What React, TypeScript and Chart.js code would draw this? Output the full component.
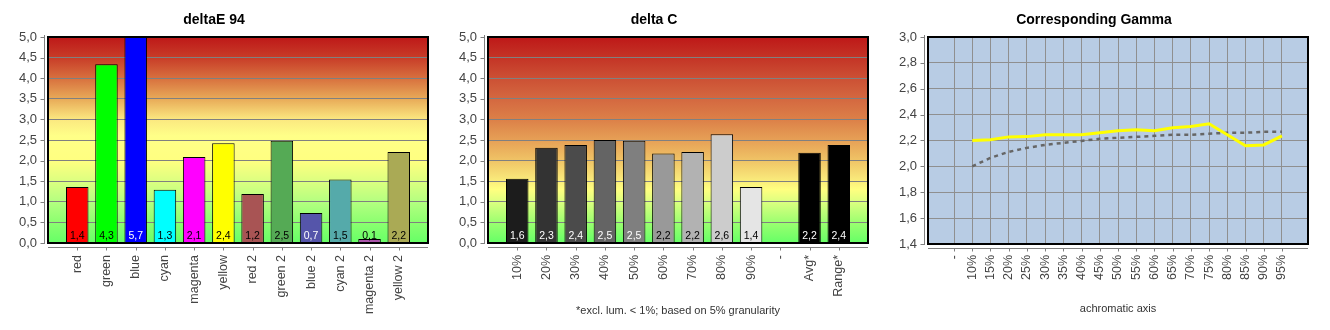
import React, { useEffect, useRef } from 'react';
import { Chart, registerables } from 'chart.js';

Chart.register(...registerables);

// ---------- data ----------
const deltaECategories = ['red', 'green', 'blue', 'cyan', 'magenta', 'yellow', 'red 2', 'green 2', 'blue 2', 'cyan 2', 'magenta 2', 'yellow 2'];
const deltaEValues = [1.36, 4.34, 5.7, 1.29, 2.09, 2.42, 1.19, 2.48, 0.73, 1.54, 0.1, 2.21];

const deltaCCategories = ['10%', '20%', '30%', '40%', '50%', '60%', '70%', '80%', '90%', '-', 'Avg*', 'Range*'];
const deltaCValues = [1.56, 2.31, 2.38, 2.5, 2.48, 2.17, 2.21, 2.64, 1.36, null, 2.19, 2.38];

const gammaLabels = ['-', '10%', '15%', '20%', '25%', '30%', '35%', '40%', '45%', '50%', '55%', '60%', '65%', '70%', '75%', '80%', '85%', '90%', '95%'];
const gammaMeasured = [2.2, 2.205, 2.228, 2.23, 2.244, 2.244, 2.244, 2.26, 2.275, 2.283, 2.275, 2.298, 2.308, 2.329, 2.244, 2.159, 2.166, 2.236];
const gammaTarget = [2.0, 2.066, 2.112, 2.143, 2.166, 2.182, 2.197, 2.213, 2.221, 2.228, 2.236, 2.244, 2.244, 2.252, 2.26, 2.26, 2.267, 2.267];

const barTickLabels = ['0,0', '0,5', '1,0', '1,5', '2,0', '2,5', '3,0', '3,5', '4,0', '4,5', '5,0'];

// ---------- styles ----------
const FONT = '"Liberation Sans", Arial, sans-serif';
const deltaEColors = ['#ff0000', '#00ff00', '#0000ff', '#00ffff', '#ff00ff', '#ffff00', '#a85454', '#55aa55', '#5555aa', '#55aaaa', '#aa55aa', '#aaaa55'];
const deltaELabelColors = ['#000', '#000', '#fff', '#000', '#000', '#000', '#000', '#000', '#fff', '#000', '#000', '#000'];
const deltaCColors = ['#1c1c1c', '#333333', '#4b4b4b', '#646464', '#7f7f7f', '#999999', '#b2b2b2', '#cccccc', '#e5e5e5', '#000000', '#000000', '#000000'];
const deltaCLabelColors = ['#fff', '#fff', '#fff', '#fff', '#fff', '#000', '#000', '#000', '#000', '#000', '#fff', '#fff'];

const stopsE: [number, string][] = [
  [0, '#66ff66'], [0.5, '#8cff70'], [1.0, '#b4ff80'], [1.5, '#dcff80'], [2.0, '#ffff80'], [2.6, '#ffff88'],
  [3.0, '#fbe880'], [3.5, '#e8aa58'], [4.0, '#d8703e'], [4.5, '#c83c28'], [5.0, '#be1818'],
];
const stopsC: [number, string][] = [
  [0, '#66ff66'], [0.5, '#9cff70'], [1.0, '#dcff80'], [1.3, '#ffff80'], [1.6, '#f8e478'], [2.0, '#f0c466'],
  [2.5, '#e6a056'], [3.0, '#dc8048'], [3.5, '#d46840'], [4.0, '#cc5034'], [4.5, '#c43426'], [5.0, '#be1818'],
];

const fmt = (v: number) => v.toFixed(1).replace('.', ',');
const pad = (arr: any[]) => [null, ...arr, null];

const panelPlugin = {
  id: 'panel',
  beforeDraw(chart: any, _args: any, opts: any) {
    const { ctx, chartArea: a } = chart;
    const ys = chart.scales.y;
    const xs = chart.scales.x;
    ctx.save();
    if (opts.stops) {
      const g = ctx.createLinearGradient(0, ys.getPixelForValue(ys.min), 0, ys.getPixelForValue(ys.max));
      opts.stops.forEach(([v, c]: [number, string]) => g.addColorStop((v - ys.min) / (ys.max - ys.min), c));
      ctx.fillStyle = g;
    } else {
      ctx.fillStyle = opts.background;
    }
    ctx.fillRect(a.left, a.top, a.right - a.left, a.bottom - a.top);

    ctx.strokeStyle = '#808080';
    ctx.lineWidth = 1;
    ctx.beginPath();
    const ax = Math.round(a.left) - 4 + 0.5;
    ctx.moveTo(ax, a.top - 2);
    ctx.lineTo(ax, a.bottom + 1);
    ys.ticks.forEach((t: any) => {
      const py = Math.round(ys.getPixelForValue(t.value)) + 0.5;
      ctx.moveTo(ax - 4, py);
      ctx.lineTo(ax, py);
    });
    const ay = Math.round(a.bottom) + 4 + 0.5;
    ctx.moveTo(a.left, ay);
    ctx.lineTo(a.right, ay);
    xs.ticks.forEach((t: any, i: number) => {
      if (!t.label) return;
      const px = Math.round(xs.getPixelForTick(i)) + 0.5;
      ctx.moveTo(px, ay);
      ctx.lineTo(px, ay + 3);
    });
    ctx.stroke();
    ctx.restore();
  },
  afterDatasetsDraw(chart: any, _args: any, opts: any) {
    const { ctx, chartArea: a } = chart;
    ctx.save();
    if (opts.valueLabels) {
      const meta = chart.getDatasetMeta(0);
      const data = chart.data.datasets[0].data;
      ctx.font = '10.5px ' + FONT;
      ctx.textAlign = 'center';
      ctx.textBaseline = 'alphabetic';
      meta.data.forEach((el: any, i: number) => {
        const v = data[i];
        if (v === null || v === undefined) return;
        ctx.fillStyle = opts.valueLabels[i] || '#000';
        ctx.fillText(fmt(v), el.x, a.bottom - 4);
      });
    }
    ctx.strokeStyle = '#000';
    ctx.lineWidth = 2;
    ctx.strokeRect(Math.round(a.left), Math.round(a.top), Math.round(a.right) - Math.round(a.left), Math.round(a.bottom) - Math.round(a.top));
    ctx.restore();
  },
};

const titleOpts = (text: string) => ({
  display: true,
  text,
  color: '#000',
  font: { family: FONT, size: 14, weight: 'bold' as const, lineHeight: 1.2 },
  padding: { top: 12.2, bottom: 8 },
});

const fixX = (h: number) => (s: any) => {
  s.height = h;
  s.paddingLeft = 0;
  s.paddingRight = 0;
};
const fixY = (s: any) => {
  s.width = 48;
  s.paddingTop = 0;
  s.paddingBottom = 0;
};

function barConfig(title: string, cats: string[], values: (number | null)[], colors: string[], labelColors: string[], stops: [number, string][], footnote?: string) {
  return {
    type: 'bar' as const,
    data: {
      labels: ['', ...cats, ''],
      datasets: [{
        data: pad(values),
        backgroundColor: pad(colors),
        borderColor: '#000',
        borderWidth: 1,
        barPercentage: 0.77,
        categoryPercentage: 1,
        clip: 0,
      }],
    },
    options: {
      responsive: false,
      animation: false as const,
      devicePixelRatio: 1,
      layout: { padding: { left: 0, right: 12, top: 0, bottom: 0 } },
      plugins: {
        legend: { display: false },
        tooltip: { enabled: false },
        title: titleOpts(title),
        panel: { stops, valueLabels: pad(labelColors) },
      },
      scales: {
        x: {
          type: 'category' as const,
          offset: false,
          grid: { display: false, drawTicks: false },
          border: { display: false },
          ticks: { autoSkip: false, minRotation: 90, maxRotation: 90, padding: 12, color: '#444', font: { family: FONT, size: 12.5 } },
          title: footnote ? { display: true, text: footnote, color: '#333', font: { family: FONT, size: 11 }, padding: { top: 0, bottom: 12 } } : { display: false },
          afterFit: fixX(87),
        },
        y: {
          min: 0,
          max: 5,
          afterBuildTicks: (s: any) => { s.ticks = barTickLabels.map((_, i) => ({ value: i * 0.5 })); },
          ticks: { callback: (_v: any, i: number) => barTickLabels[i], padding: 11, color: '#444', font: { family: FONT, size: 13 } },
          grid: { color: '#808080', drawTicks: false },
          border: { display: false },
          afterFit: fixY,
        },
      },
    },
    plugins: [panelPlugin],
  };
}

function gammaConfig() {
  return {
    type: 'line' as const,
    data: {
      datasets: [
        {
          data: gammaMeasured.map((v, i) => ({ x: i + 1, y: v })),
          borderColor: '#ffff00',
          borderWidth: 3,
          pointRadius: 0,
          tension: 0,
        },
        {
          data: gammaTarget.map((v, i) => ({ x: i + 1, y: v })),
          borderColor: '#666666',
          borderWidth: 2.5,
          borderDash: [4, 4],
          pointRadius: 0,
          tension: 0,
        },
      ],
    },
    options: {
      responsive: false,
      animation: false as const,
      devicePixelRatio: 1,
      layout: { padding: { left: 0, right: 12, top: 0, bottom: 0 } },
      plugins: {
        legend: { display: false },
        tooltip: { enabled: false },
        title: titleOpts('Corresponding Gamma'),
        panel: { background: '#b8cce4' },
      },
      scales: {
        x: {
          type: 'linear' as const,
          min: -1.43,
          max: gammaLabels.length - 1 + 1.43,
          afterBuildTicks: (s: any) => { s.ticks = gammaLabels.map((_, i) => ({ value: i })); },
          ticks: { autoSkip: false, minRotation: 90, maxRotation: 90, padding: 11, color: '#444', font: { family: FONT, size: 12.5 }, callback: (v: any) => gammaLabels[v] ?? '' },
          grid: { color: '#8f8f8f', drawTicks: false },
          border: { display: false },
          title: { display: true, text: 'achromatic axis', color: '#333', font: { family: FONT, size: 11 }, padding: { top: 0, bottom: 14 } },
          afterFit: fixX(86),
        },
        y: {
          min: 1.4,
          max: 3.0,
          ticks: { stepSize: 0.2, callback: (v: any) => fmt(v), padding: 11, color: '#444', font: { family: FONT, size: 13 } },
          grid: { color: '#8f8f8f', drawTicks: false },
          border: { display: false },
          afterFit: fixY,
        },
      },
    },
    plugins: [panelPlugin],
  };
}

function Panel({ left, make }: { left: number; make: () => any }) {
  const ref = useRef<HTMLCanvasElement | null>(null);
  useEffect(() => {
    const chart = new Chart(ref.current as HTMLCanvasElement, make());
    return () => chart.destroy();
  }, []);
  return (
    <div style={{ position: 'absolute', left, top: 0, width: 440, height: 330 }}>
      <canvas ref={ref} width={440} height={330} style={{ display: 'block', width: 440, height: 330 }} />
    </div>
  );
}

export default function App() {
  return (
    <div style={{ position: 'fixed', left: 0, top: 0, width: 1330, height: 330, background: '#fff' }}>
      <Panel left={0} make={() => barConfig('deltaE 94', deltaECategories, deltaEValues, deltaEColors, deltaELabelColors, stopsE)} />
      <Panel left={440} make={() => barConfig('delta C', deltaCCategories, deltaCValues, deltaCColors, deltaCLabelColors, stopsC, '*excl. lum. < 1%; based on 5% granularity')} />
      <Panel left={880} make={gammaConfig} />
    </div>
  );
}
